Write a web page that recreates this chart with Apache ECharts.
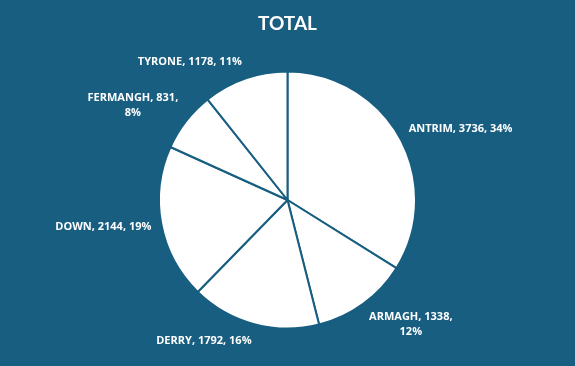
<!DOCTYPE html>
<html><head><meta charset="utf-8">
<script src="https://cdn.jsdelivr.net/npm/echarts@6/dist/echarts.min.js"></script>
<style>html,body{margin:0;padding:0;background:#175e81;}#c{width:575px;height:366px;}</style>
</head><body><div id="c"></div>
<script>
var categories = ['ANTRIM','ARMAGH','DERRY','DOWN','FERMANGH','TYRONE'];
var values = [3736,1338,1792,2144,831,1178];
var title = 'TOTAL';
var BG = '#175e81';
var LABEL_FONT = 'bold 11px "Open Sans"';
var CX = 287.5, CY = 200, R = 128.5, GAP = 10, MAXW = 108;
var total = values.reduce(function(a,b){return a+b;},0);
var ctx = document.createElement('canvas').getContext('2d');
ctx.font = LABEL_FONT;
function labelText(i){
  var s = categories[i] + ', ' + values[i] + ', ' + Math.round(values[i]/total*100) + '%';
  if (ctx.measureText(s).width > MAXW) {
    var k = s.lastIndexOf(', ');
    s = s.slice(0, k+1) + '\n' + s.slice(k+2);
  }
  return s;
}
// mid angles (from 12 o'clock, clockwise)
var mids = [], acc = 0;
values.forEach(function(v){ mids.push((acc + v/2)/total*2*Math.PI); acc += v; });
var chart = echarts.init(document.getElementById('c'));
chart.setOption({
  backgroundColor: BG,
  animation: false,
  title: {text: title, left: 'center', top: 9, textStyle: {color:'#ffffff', fontFamily:'Lato', fontWeight:'bold', fontSize:19}},
  series: [{
    type: 'pie',
    center: [CX, CY],
    radius: R,
    startAngle: 90,
    clockwise: true,
    itemStyle: {color:'#ffffff', borderColor: BG, borderWidth: 2},
    label: {
      show: true, position: 'outside', color:'#ffffff', fontFamily:'Open Sans', fontWeight:'bold', fontSize:11,
      lineHeight: 15, align: 'center',
      formatter: function(p){ return labelText(p.dataIndex); }
    },
    labelLine: {show:false, length: 8, length2: 0},
    labelLayout: function(p){
      var a = mids[p.dataIndex], s = Math.sin(a), c = Math.cos(a);
      var px = CX + (R+GAP)*s, py = CY - (R+GAP)*c;
      var w = p.labelRect.width, h = p.labelRect.height;
      var cx = px + (s >= 0 ? 1 : -1) * w/2;
      var cy = py - c * h/2;
      return {x: cx, y: cy, align: 'center', verticalAlign: 'middle'};
    },
    data: categories.map(function(c,i){return {name:c, value:values[i]};})
  }]
});
</script></body></html>
